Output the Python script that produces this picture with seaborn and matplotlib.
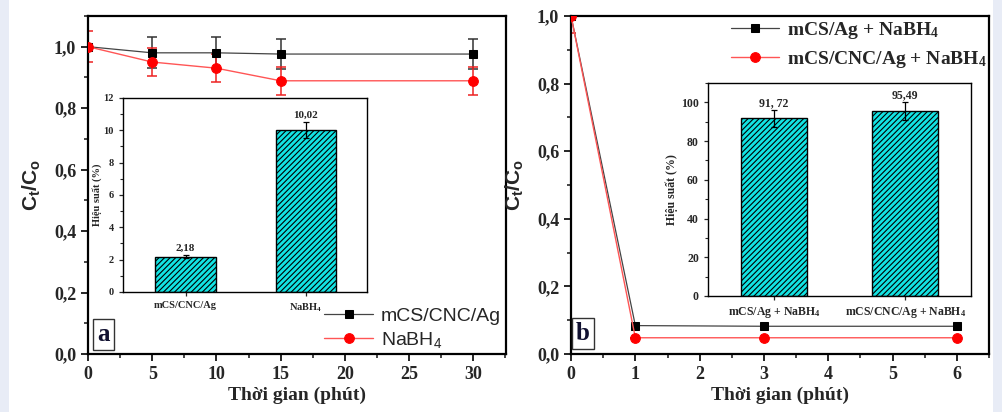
import numpy as np
import pandas as pd
import matplotlib
matplotlib.use("Agg")
import matplotlib.pyplot as plt
import seaborn as sns
from matplotlib.ticker import FuncFormatter, MultipleLocator, AutoMinorLocator
from matplotlib.patches import Rectangle

# ---------------- data ----------------
time_a = [0, 5, 10, 15, 30]
cat_a_black = [1.0, 0.98, 0.98, 0.976, 0.976]
err_a_black = [0.0, 0.05, 0.05, 0.05, 0.05]
nabh4_a_red = [1.0, 0.95, 0.93, 0.889, 0.889]
err_a_red = [0.05, 0.047, 0.045, 0.045, 0.045]

time_b = [0, 1, 3, 6]
mcs_ag_b = [1.0, 0.084, 0.082, 0.082]
mcs_cnc_ag_b = [1.0, 0.048, 0.048, 0.048]
err_b_red = [0.05, 0.0, 0.0, 0.0]

inset_a_cats = ["mCS/CNC/Ag", r"$\mathregular{NaBH_4}$"]
inset_a_vals = [2.18, 10.02]
inset_a_err = [0.1, 0.5]
inset_a_labels = ["2,18", "10,02"]

inset_b_cats = [r"mCS/Ag + $\mathregular{NaBH_4}$", r"mCS/CNC/Ag + $\mathregular{NaBH_4}$"]
inset_b_vals = [91.72, 95.49]
inset_b_err = [4.5, 4.8]
inset_b_labels = ["91, 72", "95,49"]

# ---------------- style ----------------
sns.set_style("ticks")
plt.rcParams["font.family"] = ["Liberation Serif", "DejaVu Serif"]
plt.rcParams["hatch.linewidth"] = 0.8

SERIF = "Liberation Serif"
SANS = "Liberation Sans"
BAR_COLOR = "#12e3e3"

fig = plt.figure(figsize=(10.02, 4.12), dpi=100)
fig.patch.set_facecolor("white")
fig.patches.append(Rectangle((0, 0), 0.0085, 1, transform=fig.transFigure,
                             facecolor="#e8ecf6", edgecolor="none", zorder=-10))
fig.patches.append(Rectangle((0.991, 0), 0.009, 1, transform=fig.transFigure,
                             facecolor="#e8ecf6", edgecolor="none", zorder=-10))

comma = FuncFormatter(lambda v, p: f"{v:.1f}".replace(".", ","))


def style_main(ax):
    for s in ax.spines.values():
        s.set_linewidth(1.6)
        s.set_color("black")
    ax.tick_params(axis="both", which="major", direction="out", length=5, width=1.4,
                   labelsize=13, top=False, right=False)
    ax.tick_params(axis="both", which="minor", direction="out", length=3, width=1.2,
                   top=False, right=False)
    for lab in ax.get_xticklabels() + ax.get_yticklabels():
        lab.set_fontfamily(SERIF)
        lab.set_fontweight("bold")
    ax.set_facecolor("white")


def style_inset(ax, ysize, xsize):
    for s in ax.spines.values():
        s.set_linewidth(1.0)
        s.set_color("black")
    ax.tick_params(axis="both", which="major", direction="out", length=3, width=0.9,
                   labelsize=ysize, top=False, right=False)
    ax.tick_params(axis="y", which="minor", direction="out", length=2, width=0.8, right=False)
    for lab in ax.get_yticklabels():
        lab.set_fontfamily(SERIF)
        lab.set_fontweight("bold")
    for lab in ax.get_xticklabels():
        lab.set_fontfamily(SERIF)
        lab.set_fontweight("bold")
        lab.set_fontsize(xsize)


# ---------------- panel a ----------------
axA = fig.add_axes([0.0878, 0.1408, 0.4172, 0.8205])
dfa = pd.DataFrame({"t": time_a, "black": cat_a_black, "red": nabh4_a_red})
axA.errorbar(time_a, cat_a_black, yerr=err_a_black, fmt="none", ecolor="#333333",
             elinewidth=1.1, capsize=3.5, capthick=1.1, zorder=2)
axA.errorbar(time_a, nabh4_a_red, yerr=err_a_red, fmt="none", ecolor="#ee2222",
             elinewidth=1.1, capsize=3.5, capthick=1.1, zorder=2)
sns.lineplot(data=dfa, x="t", y="black", ax=axA, color="#444444", linewidth=0.9,
             marker="s", markersize=6, markerfacecolor="black", markeredgecolor="black",
             label="mCS/CNC/Ag", zorder=3)
sns.lineplot(data=dfa, x="t", y="red", ax=axA, color="#ff5555", linewidth=1.0,
             marker="o", markersize=7, markerfacecolor="red", markeredgecolor="red",
             label=r"$\mathregular{NaBH_4}$", zorder=3)
axA.set_xlim(0, 32.55)
axA.set_ylim(0, 1.1)
axA.xaxis.set_major_locator(MultipleLocator(5))
axA.xaxis.set_minor_locator(AutoMinorLocator(2))
axA.yaxis.set_major_locator(MultipleLocator(0.2))
axA.yaxis.set_minor_locator(AutoMinorLocator(2))
axA.yaxis.set_major_formatter(comma)
axA.set_xlabel("Thời gian (phút)", fontfamily=SERIF, fontweight="bold", fontsize=14, labelpad=3)
axA.set_ylabel(r"$\mathregular{C_t/C_o}$", fontfamily=SANS, fontweight="bold", fontsize=15, labelpad=8)
style_main(axA)
legA = axA.legend(loc="lower right", bbox_to_anchor=(1.02, -0.028), frameon=False,
                  prop={"family": SANS, "size": 14}, handlelength=2.5, handletextpad=0.4,
                  labelspacing=0.25, borderaxespad=0.3)
axA.text(0.022, 0.025, "a", transform=axA.transAxes, fontfamily=SERIF, fontweight="bold",
         fontsize=18, color="#101030", va="bottom", ha="left",
         bbox=dict(boxstyle="square,pad=0.16", facecolor="white", edgecolor="#333333", linewidth=1.0))

# ---------------- panel b ----------------
axB = fig.add_axes([0.5699, 0.1408, 0.4172, 0.8205])
dfb = pd.DataFrame({"t": time_b, "black": mcs_ag_b, "red": mcs_cnc_ag_b})
axB.errorbar(time_b, mcs_cnc_ag_b, yerr=err_b_red, fmt="none", ecolor="#ee2222",
             elinewidth=1.1, capsize=3.5, capthick=1.1, zorder=2)
sns.lineplot(data=dfb, x="t", y="black", ax=axB, color="#444444", linewidth=0.9,
             marker="s", markersize=6, markerfacecolor="black", markeredgecolor="black",
             label=r"mCS/Ag + $\mathregular{NaBH_4}$", zorder=3)
sns.lineplot(data=dfb, x="t", y="red", ax=axB, color="#ff5555", linewidth=1.0,
             marker="o", markersize=7, markerfacecolor="red", markeredgecolor="red",
             label=r"mCS/CNC/Ag + $\mathregular{NaBH_4}$", zorder=3)
axB.set_xlim(0, 6.5)
axB.set_ylim(0, 1.0)
axB.xaxis.set_major_locator(MultipleLocator(1))
axB.xaxis.set_minor_locator(AutoMinorLocator(2))
axB.yaxis.set_major_locator(MultipleLocator(0.2))
axB.yaxis.set_minor_locator(AutoMinorLocator(2))
axB.yaxis.set_major_formatter(comma)
axB.set_xlabel("Thời gian (phút)", fontfamily=SERIF, fontweight="bold", fontsize=14, labelpad=3)
axB.set_ylabel(r"$\mathregular{C_t/C_o}$", fontfamily=SANS, fontweight="bold", fontsize=15, labelpad=8)
style_main(axB)
legB = axB.legend(loc="upper right", bbox_to_anchor=(1.022, 1.022), frameon=False,
                  prop={"family": SERIF, "size": 14, "weight": "bold"}, handlelength=2.5,
                  handletextpad=0.4, labelspacing=0.4, borderaxespad=0.2)
axB.text(0.012, 0.028, "b", transform=axB.transAxes, fontfamily=SERIF, fontweight="bold",
         fontsize=18, color="#101030", va="bottom", ha="left",
         bbox=dict(boxstyle="square,pad=0.16", facecolor="white", edgecolor="#333333", linewidth=1.0))

# ---------------- inset a ----------------
insA = fig.add_axes([0.1228, 0.2913, 0.2435, 0.4709])
dia = pd.DataFrame({"cat": inset_a_cats, "val": inset_a_vals})
sns.barplot(data=dia, x="cat", y="val", ax=insA, color=BAR_COLOR, width=0.5,
            edgecolor="black", linewidth=1.0, hatch="//////", saturation=1)
insA.errorbar(range(len(inset_a_vals)), inset_a_vals, yerr=inset_a_err, fmt="none",
              ecolor="black", elinewidth=0.9, capsize=2.5, capthick=0.9)
for i, (v, e, t) in enumerate(zip(inset_a_vals, inset_a_err, inset_a_labels)):
    insA.text(i, v + e + 0.15, t, ha="center", va="bottom", fontfamily=SERIF,
              fontweight="bold", fontsize=8)
insA.set_xlim(-0.52, 1.51)
insA.set_ylim(0, 12)
insA.yaxis.set_major_locator(MultipleLocator(2))
insA.yaxis.set_minor_locator(AutoMinorLocator(2))
insA.set_xlabel("")
insA.set_ylabel("Hiệu suất (%)", fontfamily=SERIF, fontweight="bold", fontsize=7.5, labelpad=1)
style_inset(insA, 7.5, 7.5)

# ---------------- inset b ----------------
insB = fig.add_axes([0.7066, 0.2816, 0.2625, 0.517])
dib = pd.DataFrame({"cat": inset_b_cats, "val": inset_b_vals})
sns.barplot(data=dib, x="cat", y="val", ax=insB, color=BAR_COLOR, width=0.5,
            edgecolor="black", linewidth=1.0, hatch="//////", saturation=1)
insB.errorbar(range(len(inset_b_vals)), inset_b_vals, yerr=inset_b_err, fmt="none",
              ecolor="black", elinewidth=0.9, capsize=2.5, capthick=0.9)
for i, (v, e, t) in enumerate(zip(inset_b_vals, inset_b_err, inset_b_labels)):
    insB.text(i, v + e + 0.5, t, ha="center", va="bottom", fontfamily=SERIF,
              fontweight="bold", fontsize=8.5)
insB.set_xlim(-0.5, 1.5)
insB.set_ylim(0, 110)
insB.yaxis.set_major_locator(MultipleLocator(20))
insB.yaxis.set_minor_locator(AutoMinorLocator(2))
insB.set_xlabel("")
insB.set_ylabel("Hiệu suất (%)", fontfamily=SERIF, fontweight="bold", fontsize=8.5, labelpad=2)
style_inset(insB, 8.5, 8.5)

fig.savefig("out.png", dpi=100, facecolor=fig.get_facecolor())
